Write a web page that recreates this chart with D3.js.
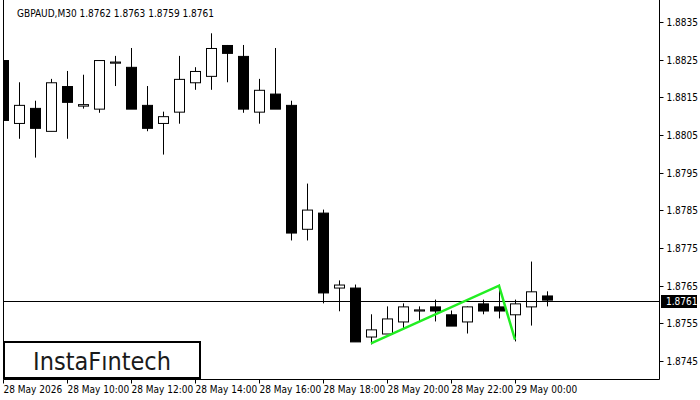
<!DOCTYPE html>
<html><head><meta charset="utf-8">
<script src="https://cdn.jsdelivr.net/npm/d3@7"></script>
<style>body{margin:0;background:#fff}svg{display:block}text{font-family:"DejaVu Sans Condensed","Liberation Sans",sans-serif}</style>
</head><body>
<svg id="c" width="700" height="400"></svg>
<script>
// candles, 30 min each, starting 28 May 08:00
const opens  = [1.88249,1.88082,1.88122,1.88061,1.8818,1.88128,1.8812,1.88242,1.88231,1.8813,1.88082,1.88112,1.8819,1.88207,1.88289,1.8826,1.88112,1.8816,1.8813,1.87801,1.87844,1.87645,1.87645,1.87515,1.87523,1.87555,1.87584,1.87595,1.87574,1.87555,1.87603,1.87595,1.87574,1.87595,1.87624]
const highs  = [1.8830,1.8819,1.88141,1.88199,1.8822,1.8821,1.88249,1.8826,1.88281,1.8818,1.88112,1.8826,1.8823,1.8832,1.88289,1.88289,1.88199,1.88281,1.88141,1.87921,1.87852,1.87664,1.87653,1.87574,1.87595,1.87603,1.87595,1.87613,1.87584,1.87595,1.87613,1.87653,1.87613,1.87714,1.87635]
const lows   = [1.8808,1.8804,1.8799,1.8806,1.8804,1.8812,1.88109,1.8818,1.8812,1.8806,1.87998,1.8808,1.8817,1.8817,1.8819,1.88109,1.8808,1.8812,1.8777,1.8777,1.87603,1.87582,1.87502,1.87494,1.87523,1.87537,1.87555,1.87555,1.87544,1.87523,1.87574,1.87563,1.87502,1.87544,1.87595]
const closes = [1.8809,1.8813,1.88069,1.8819,1.88138,1.88132,1.88249,1.88245,1.8812,1.88069,1.881,1.88199,1.8822,1.88281,1.88268,1.8812,1.8817,1.8812,1.87791,1.87852,1.87632,1.87653,1.87502,1.87534,1.87563,1.87595,1.87587,1.87584,1.87544,1.87595,1.87584,1.87584,1.87603,1.87635,1.87613]
const priceTicks = [1.8835,1.8825,1.8815,1.8805,1.8795,1.8785,1.8775,1.8765,1.8755,1.8745]
const timeLabels = ["28 May 2026","28 May 10:00","28 May 12:00","28 May 14:00","28 May 16:00","28 May 18:00","28 May 20:00","28 May 22:00","29 May 00:00"]
const patternIdx = [23,31,32]
const patternPrice = [1.87497,1.8765,1.87507]
const lastPrice = 1.8761

const svg = d3.select('#c')
const L = 3, R = 659, B = 379
const x = d3.scaleLinear().domain([0, 1]).range([3, 19]) // 16 px por vela
const y = d3.scaleLinear().domain([1.8835, 1.8745]).range([22, 361])

svg.append('clipPath').attr('id','clip').append('rect')
  .attr('x', L).attr('y', 0).attr('width', R - L).attr('height', B)
const plot = svg.append('g').attr('clip-path','url(#clip)')

const idx = d3.range(opens.length)
/*mechas*/
plot.selectAll('line.w').data(idx).join('line')
  .attr('x1', i => x(i) + .5).attr('x2', i => x(i) + .5)
  .attr('y1', i => y(highs[i])).attr('y2', i => y(lows[i]))
  .attr('stroke','#000').attr('stroke-width',1)
/*cuerpos*/
plot.selectAll('rect.b').data(idx).join('rect')
  .attr('x', i => x(i) - 4.5).attr('width', 10)
  .attr('y', i => y(Math.max(opens[i], closes[i])) + .5)
  .attr('height', i => Math.max(0, Math.abs(y(opens[i]) - y(closes[i]))))
  .attr('fill', i => closes[i] < opens[i] ? '#000' : '#fff')
  .attr('stroke','#000').attr('stroke-width',1)

/*línea de precio*/
plot.append('line').attr('x1', L).attr('x2', R)
  .attr('y1', Math.round(y(lastPrice)) + .5).attr('y2', Math.round(y(lastPrice)) + .5)
  .attr('stroke','#000')

/*patrón*/
plot.append('path')
  .attr('d', d3.line()(patternIdx.map((d, k) => [x(d), y(patternPrice[k])])))
  .attr('fill','none').attr('stroke','#22ee22').attr('stroke-width',2.5)

/*marco*/
svg.append('path').attr('d', `M${L+.5},0V${B+.5}H${R+.5}V0`).attr('fill','none').attr('stroke','#000')

/*eje Y*/
const yg = svg.append('g').attr('transform', `translate(${R+.5},0)`)
yg.selectAll('g').data(priceTicks).join('g')
  .attr('transform', d => `translate(0,${Math.round(y(d)) + .5})`)
  .call(g => g.append('line').attr('x2', 4).attr('stroke','#000'))
  .call(g => g.append('text').attr('x', 7).attr('dy','0.35em').attr('font-size', 10).text(d => d.toFixed(4)))
const ly = Math.round(y(lastPrice))
svg.append('rect').attr('x', 661).attr('y', ly - 6).attr('width', 36).attr('height', 13).attr('fill','#000')
svg.append('text').attr('x', 666).attr('y', ly).attr('dy','0.35em').attr('font-size', 10).attr('fill','#fff').text(lastPrice.toFixed(4))

/*eje X*/
const xg = svg.append('g').attr('transform', `translate(0,${B+.5})`)
xg.selectAll('g').data(timeLabels).join('g')
  .attr('transform', (d, k) => `translate(${x(k * 4) + .5},0)`)
  .call(g => g.append('line').attr('y2', 4).attr('stroke','#000'))
  .call(g => g.append('text').attr('x', 0).attr('y', 13).attr('font-size', 10).text(d => d))

/*título*/
svg.append('text').attr('x', 17).attr('y', 17).attr('font-size', 10).text('GBPAUD,M30  1.8762 1.8763 1.8759 1.8761')

/*logo*/
svg.append('rect').attr('x', 4).attr('y', 342).attr('width', 196).attr('height', 36)
  .attr('fill','#fff').attr('stroke','#000').attr('stroke-width', 2)
svg.append('text').attr('x', 102).attr('y', 370).attr('text-anchor','middle')
  .attr('font-family','"DejaVu Sans", sans-serif').attr('font-size', 25).attr('fill','#1a1a1a').text('InstaFıntech')
</script>
</body></html>
